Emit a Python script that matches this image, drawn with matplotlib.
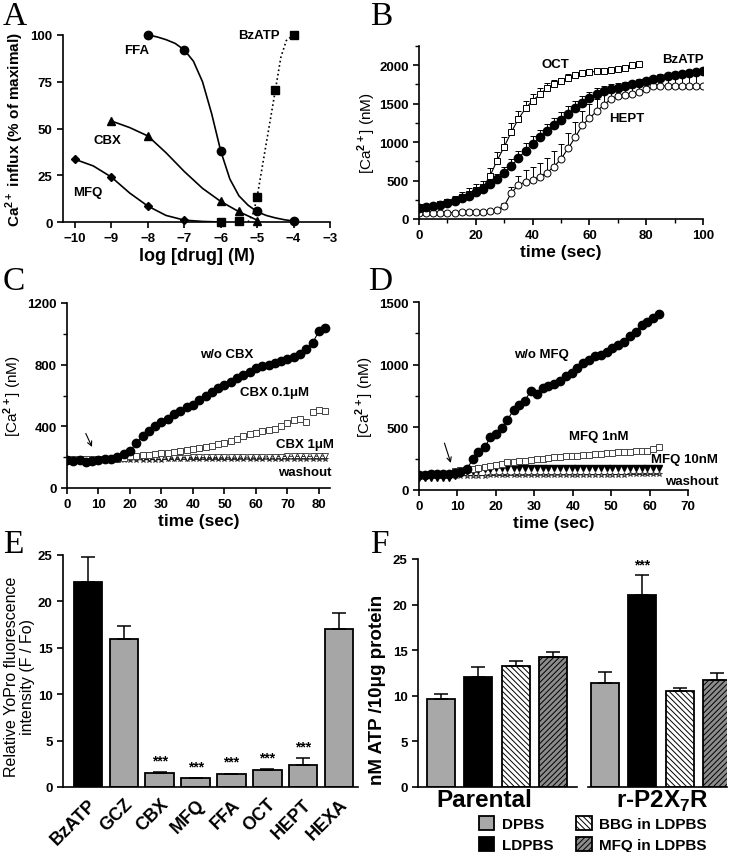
import numpy as np
import matplotlib
matplotlib.use('Agg')
import matplotlib.pyplot as plt
from matplotlib.ticker import MultipleLocator
from matplotlib import rcParams

rcParams.update({'font.family': ['Liberation Sans', 'DejaVu Sans'], 'font.weight': 'bold',
                 'axes.linewidth': 1.2, 'xtick.major.width': 1.2, 'ytick.major.width': 1.2,
                 'xtick.minor.width': 1.0, 'ytick.minor.width': 1.0,
                 'xtick.major.size': 4, 'ytick.major.size': 4,
                 'xtick.minor.size': 3, 'ytick.minor.size': 3,
                 'xtick.labelsize': 9.5, 'ytick.labelsize': 9.5,
                 'mathtext.fontset': 'custom', 'mathtext.rm': 'Liberation Sans',
                 'mathtext.bf': 'Liberation Sans:bold', 'hatch.linewidth': 0.7})

# ---- panel A: dose response
ffa_x = [-8, -7, -6, -5, -4]
ffa_y = [100, 92, 38, 6, 0.5]
ffa_fit_x = [-8, -7.75, -7.5, -7.25, -7, -6.75, -6.5, -6.25, -6, -5.75, -5.5, -5.25, -5, -4.75, -4.5, -4.25, -4]
ffa_fit_y = [100, 99, 97.5, 95.5, 92, 86, 75, 58, 38, 23, 14, 9, 5.5, 3.5, 2.2, 1.2, 0.5]
cbx_x = [-9, -8, -6, -5.5, -5]
cbx_y = [54, 46, 11, 6, 0.3]
cbx_fit_x = [-9, -8.5, -8, -7.5, -7, -6.5, -6, -5.5, -5]
cbx_fit_y = [54, 50.5, 46, 37, 27, 18, 11, 5.5, 1]
mfq_x = [-10, -9, -8, -7]
mfq_y = [33.5, 24, 8.5, 1]
mfq_fit_x = [-10, -9.5, -9, -8.5, -8, -7.5, -7, -6.5, -6]
mfq_fit_y = [33.5, 30, 24, 15.5, 8.5, 3.5, 1, 0.3, 0]
bz_x = [-6, -5.5, -5, -4.5, -4]
bz_y = [0, 0.5, 13.5, 70.5, 100]
bz_fit_x = [-5.25, -5.1, -5, -4.75, -4.5, -4.35, -4.2, -4]
bz_fit_y = [0, 5, 13.5, 42, 70.5, 88, 97, 100]

# ---- panel B: time courses
tB_oct = np.arange(0, 78, 2.5)
oct_v = [150, 155, 170, 190, 215, 245, 285, 330, 380, 410, 560, 760, 940, 1130, 1300, 1440,
         1540, 1620, 1700, 1750, 1790, 1840, 1870, 1895, 1910, 1920, 1925, 1935, 1945, 1965, 2005, 2010]
oct_e = [30, 30, 30, 30, 40, 50, 60, 70, 80, 90, 100, 110, 120, 120, 110, 100,
         90, 80, 70, 60, 50, 40, 40, 30, 30, 30, 30, 30, 30, 30, 20, 20]
tB = np.arange(0, 100.1, 2.5)
bzt_v = [140, 150, 165, 185, 210, 240, 270, 305, 350, 395, 450, 520, 600, 690, 790, 890, 980, 1060,
         1140, 1220, 1290, 1370, 1440, 1510, 1570, 1620, 1660, 1690, 1710, 1730, 1750, 1775, 1800,
         1820, 1840, 1855, 1870, 1885, 1900, 1910, 1920]
bzt_e = [20, 20, 20, 20, 30, 30, 40, 40, 50, 60, 60, 70, 80, 90, 100, 100, 100, 100, 100, 100, 100,
         100, 90, 90, 80, 80, 70, 60, 60, 50, 50, 40, 40, 40, 40, 30, 30, 30, 30, 30, 30]
hept_v = [80, 80, 80, 80, 82, 84, 86, 88, 90, 95, 100, 115, 170, 340, 440, 485, 510, 550, 600, 680,
          780, 920, 1060, 1220, 1310, 1400, 1480, 1560, 1600, 1615, 1625, 1650, 1690, 1725, 1730,
          1730, 1730, 1730, 1730, 1730, 1730]
hept_e = [10, 10, 10, 10, 10, 10, 10, 10, 10, 10, 15, 20, 40, 80, 120, 150, 170, 180, 190, 200, 200,
          200, 200, 190, 180, 160, 140, 120, 100, 90, 90, 100, 110, 120, 140, 150, 160, 160, 160, 160, 160]

# ---- panel C: CBX
tC = np.arange(0, 83, 2)
c_wo = [180, 175, 180, 170, 175, 180, 185, 190, 200, 220, 240, 290, 340, 370, 400, 425, 450, 480, 500,
        525, 540, 570, 600, 620, 650, 670, 690, 715, 730, 750, 780, 790, 800, 810, 825, 840, 850, 870,
        900, 940, 1020, 1035]
c_01 = [185, 185, 185, 185, 185, 185, 185, 188, 190, 195, 205, 210, 212, 215, 220, 225, 230, 235, 240,
        245, 250, 258, 265, 275, 285, 295, 305, 320, 335, 350, 360, 370, 375, 385, 400, 420, 440, 445,
        430, 495, 505, 500]
c_1 = [185, 185, 180, 180, 185, 185, 190, 190, 190, 192, 195, 195, 195, 195, 195, 195, 196, 196, 197,
       197, 198, 198, 198, 198, 199, 199, 200, 200, 200, 200, 200, 200, 202, 202, 204, 206, 206, 205,
       205, 206, 207, 208]
c_wash = [175, 175, 175, 172, 175, 178, 180, 180, 182, 182, 183, 183, 183, 184, 184, 184, 185, 185,
          185, 185, 185, 185, 186, 186, 186, 186, 186, 186, 187, 187, 187, 187, 187, 187, 188, 188,
          188, 188, 188, 188, 188, 188]

# ---- panel D: MFQ
tD = [0, 1.6, 3.1, 4.7, 6.2, 7.8, 9.3, 10.7, 12.4, 14.1, 15.4, 17.2, 18.5, 20, 21.5, 23, 24.6, 26.1,
      27.6, 29.1, 30.6, 32.2, 33.6, 35.2, 36.7, 38.2, 39.7, 41.2, 42.8, 44.3, 45.8, 47.3, 48.8, 50.3,
      51.9, 53.4, 54.9, 56.4, 58, 59.4, 61, 62.4]
d_wo = [120, 122, 124, 125, 127, 128, 135, 146, 168, 247, 301, 341, 421, 447, 492, 559, 638, 678, 713,
        793, 766, 811, 832, 846, 872, 912, 931, 971, 1013, 1040, 1067, 1077, 1104, 1131, 1157, 1184,
        1227, 1264, 1317, 1343, 1370, 1405]
d_1n = [118, 118, 120, 120, 122, 125, 150, 160, 165, 170, 175, 185, 190, 200, 210, 220, 225, 230, 235,
        240, 245, 250, 255, 260, 265, 270, 272, 275, 280, 283, 286, 290, 293, 296, 300, 303, 306, 310,
        312, 315, 330, 345]
d_10n = [95, 95, 95, 95, 95, 95, 110, 140, 150, 155, 160, 165, 170, 172, 174, 175, 175, 175, 175, 175,
         175, 175, 175, 175, 175, 175, 175, 175, 175, 175, 175, 175, 175, 175, 175, 175, 175, 175, 175,
         175, 175, 175]
d_wash = [112, 112, 112, 113, 113, 113, 114, 114, 114, 115, 115, 115, 116, 116, 116, 117, 117, 117,
          118, 118, 118, 119, 119, 119, 120, 120, 120, 121, 121, 121, 122, 122, 122, 123, 123, 123,
          124, 124, 124, 125, 125, 125]

# ---- panel E: YoPro uptake
e_names = ['BzATP', 'GCZ', 'CBX', 'MFQ', 'FFA', 'OCT', 'HEPT', 'HEXA']
e_vals = [22.1, 16.0, 1.55, 0.95, 1.4, 1.85, 2.35, 17.0]
e_err = [2.7, 1.4, 0.05, 0.05, 0.05, 0.1, 0.75, 1.8]
e_sig = [False, False, True, True, True, True, True, False]

# ---- panel F: ATP release
f_conds = ['DPBS', 'LDPBS', 'BBG in LDPBS', 'MFQ in LDPBS']
f_parental = [9.6, 12.1, 13.3, 14.3]
f_parental_err = [0.55, 1.05, 0.55, 0.45]
f_p2x7 = [11.4, 21.0, 10.5, 11.7]
f_p2x7_err = [1.25, 2.3, 0.35, 0.75]

W, H = 735, 853
fig = plt.figure(figsize=(W / 100, H / 100), dpi=100)


def rect(l, r, b, t):
    return [l / W, 1 - b / H, (r - l) / W, (b - t) / H]


def clean(ax):
    ax.spines['top'].set_visible(False)
    ax.spines['right'].set_visible(False)


lab = dict(fontsize=9.5, fontweight='bold', ha='center', va='center')
panel = dict(fontsize=24, family='Liberation Serif', fontweight='normal', ha='left', va='baseline')

# A
axA = fig.add_axes(rect(63, 330, 223, 36))
clean(axA)
axA.plot(ffa_fit_x, ffa_fit_y, 'k-', lw=1.2)
axA.plot(cbx_fit_x, cbx_fit_y, 'k-', lw=1.2)
axA.plot(mfq_fit_x, mfq_fit_y, 'k-', lw=1.2)
axA.plot(bz_fit_x, bz_fit_y, 'k:', lw=1.2)
axA.plot(ffa_x, ffa_y, 'ko', ms=6, clip_on=False)
axA.plot(cbx_x, cbx_y, 'k^', ms=6, clip_on=False)
axA.plot(mfq_x, mfq_y, 'kD', ms=4.5, clip_on=False)
axA.plot(bz_x, bz_y, 'ks', ms=5.5, clip_on=False)
axA.set_xlim(-10.33, -3)
axA.set_ylim(0, 100)
axA.set_xticks(range(-10, -2))
axA.set_yticks([0, 25, 50, 75, 100])
axA.set_xlabel('log [drug] (M)', fontsize=13, fontweight='bold', labelpad=2)
axA.set_ylabel(r'Ca$^{\mathbf{2+}}$ influx (% of maximal)', fontsize=11, fontweight='bold', labelpad=3)
axA.text(-8.3, 92, 'FFA', **lab)
axA.text(-4.95, 100, 'BzATP', **lab)
axA.text(-9.1, 44, 'CBX', **lab)
axA.text(-9.65, 16, 'MFQ', **lab)

# B
axB = fig.add_axes(rect(419, 703, 220, 47))
clean(axB)
ekw = dict(fmt='none', ecolor='k', elinewidth=0.7, capsize=2.5, capthick=0.7)
axB.errorbar(tB_oct, oct_v, yerr=[np.zeros(len(oct_e)), oct_e], **ekw)
axB.errorbar(tB, bzt_v, yerr=[np.zeros(len(bzt_e)), bzt_e], **ekw)
axB.errorbar(tB, hept_v, yerr=[np.zeros(len(hept_e)), hept_e], **ekw)
axB.plot(tB_oct, oct_v, 'ks-', ms=5, mfc='white', mew=0.7, lw=0.8)
axB.plot(tB, hept_v, 'ko-', ms=5, mfc='white', mew=0.7, lw=0.8)
axB.plot(tB, bzt_v, 'ko-', ms=6, lw=0.8)
axB.set_xlim(0, 100)
axB.set_ylim(0, 2250)
axB.set_xticks(range(0, 101, 20))
axB.set_yticks(range(0, 2001, 500))
axB.xaxis.set_minor_locator(MultipleLocator(10))
axB.yaxis.set_minor_locator(MultipleLocator(250))
axB.set_xlabel('time (sec)', fontsize=12.5, fontweight='bold', labelpad=2)
axB.set_ylabel(r'[Ca$^{2+}$] (nM)', fontsize=11, fontweight='normal', labelpad=1)
axB.text(48, 2020, 'OCT', **lab)
axB.text(93, 2080, 'BzATP', **lab)
axB.text(73, 1320, 'HEPT', **lab)

# C
axC = fig.add_axes(rect(67, 330, 489, 304))
clean(axC)
axC.plot(tC, c_wash, 'k*-', ms=4, mfc='#888888', mew=0.4, lw=0.6)
axC.plot(tC, c_1, 'kv-', ms=4, mfc='white', mew=0.5, lw=0.6)
axC.plot(tC, c_01, 's', color='#444444', ms=4, mfc='white', mew=0.7, ls='none')
axC.plot(tC, c_wo, 'ko-', ms=6, lw=0.8)
axC.set_xlim(0, 83.5)
axC.set_ylim(0, 1200)
axC.set_xticks(range(0, 81, 10))
axC.set_yticks([0, 400, 800, 1200])
axC.yaxis.set_minor_locator(MultipleLocator(200))
axC.set_xlabel('time (sec)', fontsize=12.5, fontweight='bold', labelpad=2)
axC.set_ylabel(r'[Ca$^{2+}$] (nM)', fontsize=11, fontweight='normal', labelpad=2)
axC.annotate('', xy=(8.3, 250), xytext=(5.6, 370),
             arrowprops=dict(arrowstyle='->', lw=0.8, color='k', mutation_scale=8))
axC.text(50.7, 870, 'w/o CBX', **lab)
axC.text(66, 620, u'CBX 0.1\u03bcM', **lab)
axC.text(75.5, 285, u'CBX 1\u03bcM', **lab)
axC.text(75.5, 102, 'washout', **lab)

# D
axD = fig.add_axes(rect(419, 688, 491, 303))
clean(axD)
axD.plot(tD, d_wash, 'k*-', ms=4, mfc='#888888', mew=0.4, lw=0.6)
axD.plot(tD, d_10n, 'kv', ms=4.5, ls='none')
axD.plot(tD, d_1n, 's', color='#444444', ms=4.5, mfc='white', mew=0.7, ls='none')
axD.plot(tD, d_wo, 'ko-', ms=6, lw=0.8)
axD.set_xlim(0, 70)
axD.set_ylim(0, 1500)
axD.set_xticks(range(0, 71, 10))
axD.set_yticks([0, 500, 1000, 1500])
axD.yaxis.set_minor_locator(MultipleLocator(250))
axD.set_xlabel('time (sec)', fontsize=12.5, fontweight='bold', labelpad=2)
axD.set_ylabel(r'[Ca$^{2+}$] (nM)', fontsize=11, fontweight='normal', labelpad=2)
axD.annotate('', xy=(8.5, 195), xytext=(6.4, 395),
             arrowprops=dict(arrowstyle='->', lw=0.8, color='k', mutation_scale=8))
axD.text(31.9, 1085, 'w/o MFQ', **lab)
axD.text(46.7, 433, 'MFQ 1nM', **lab)
axD.text(69.2, 250, 'MFQ 10nM', clip_on=False, **lab)
axD.text(71, 75, 'washout', clip_on=False, **lab)

# E
axE = fig.add_axes(rect(63, 358, 788, 556))
clean(axE)
xe = np.arange(len(e_names))
ecol = ['black'] + ['#a6a6a6'] * (len(e_names) - 1)
axE.bar(xe, e_vals, 0.8, color=ecol, edgecolor='k', lw=1.3,
        yerr=[np.zeros(len(e_err)), e_err], error_kw=dict(elinewidth=1.1, capsize=5, capthick=1.1, ecolor='k'))
for i in range(len(e_names)):
    if e_sig[i]:
        axE.text(xe[i], e_vals[i] + e_err[i] + 0.5, '***', ha='center', va='bottom', fontsize=10, fontweight='bold')
axE.set_xlim(-0.7, 7.53)
axE.set_ylim(0, 25)
axE.set_yticks(range(0, 26, 5))
axE.set_xticks(xe)
axE.set_xticklabels(e_names, rotation=45, ha='right', rotation_mode='anchor', fontsize=13)
axE.tick_params(axis='x', length=0, pad=6)
axE.set_ylabel('Relative YoPro fluorescence\nintensity (F / Fo)', fontsize=11.5, fontweight='normal',
               linespacing=1.1)
axE.yaxis.set_label_coords(-0.095, 0.48)

# F
fcol = ['#a8a8a8', 'black', 'white', '#8c8c8c']
fhatch = [None, None, '\\\\\\\\\\\\', '//////']
axF1 = fig.add_axes(rect(418, 577, 788, 560))
axF2 = fig.add_axes(rect(588, 727, 788, 560))
xf = np.arange(len(f_conds))
handles = []
for ax, vals, errs in [(axF1, f_parental, f_parental_err), (axF2, f_p2x7, f_p2x7_err)]:
    clean(ax)
    for i in range(len(f_conds)):
        b = ax.bar(xf[i], vals[i], 0.75, color=fcol[i], edgecolor='k', lw=1.3, hatch=fhatch[i],
                   yerr=[[0], [errs[i]]], error_kw=dict(elinewidth=1.1, capsize=5, capthick=1.1, ecolor='k'))
        if ax is axF1:
            handles.append(b)
    ax.set_ylim(0, 25)
    ax.set_xticks([])
axF1.set_xlim(-0.62, 3.64)
axF2.set_xlim(-0.46, 3.27)
axF1.set_yticks(range(0, 26, 5))
axF2.spines['left'].set_visible(False)
axF2.set_yticks([])
axF2.text(1, f_p2x7[1] + f_p2x7_err[1] + 0.3, '***', ha='center', va='bottom', fontsize=10, fontweight='bold')
axF1.set_ylabel(u'nM ATP /10\u03bcg protein', fontsize=13.5, fontweight='bold')
axF1.yaxis.set_label_coords(-0.2, 0.43)
fig.text(484 / W, 1 - 801 / H, 'Parental', fontsize=17.5, fontweight='bold', ha='center', va='center')
fig.text(662 / W, 1 - 801 / H, r'r-P2X$_{\mathbf{7}}$R', fontsize=17.5, fontweight='bold', ha='center', va='center')
fig.legend(handles, f_conds, ncol=2, loc='upper left', bbox_to_anchor=(479 / W, 1 - 817 / H),
           frameon=False, fontsize=11, handlelength=1.0, handleheight=1.0, columnspacing=1.5,
           labelspacing=0.4, handletextpad=0.5, borderpad=0, borderaxespad=0)

# panel letters
fig.text(3 / W, 1 - 25 / H, 'A', **panel)
fig.text(370 / W, 1 - 25 / H, 'B', **panel)
fig.text(3 / W, 1 - 290 / H, 'C', **panel)
fig.text(368 / W, 1 - 290 / H, 'D', **panel)
fig.text(3 / W, 1 - 553 / H, 'E', **panel)
fig.text(370 / W, 1 - 553 / H, 'F', **panel)

fig.savefig('out.png', dpi=100)
